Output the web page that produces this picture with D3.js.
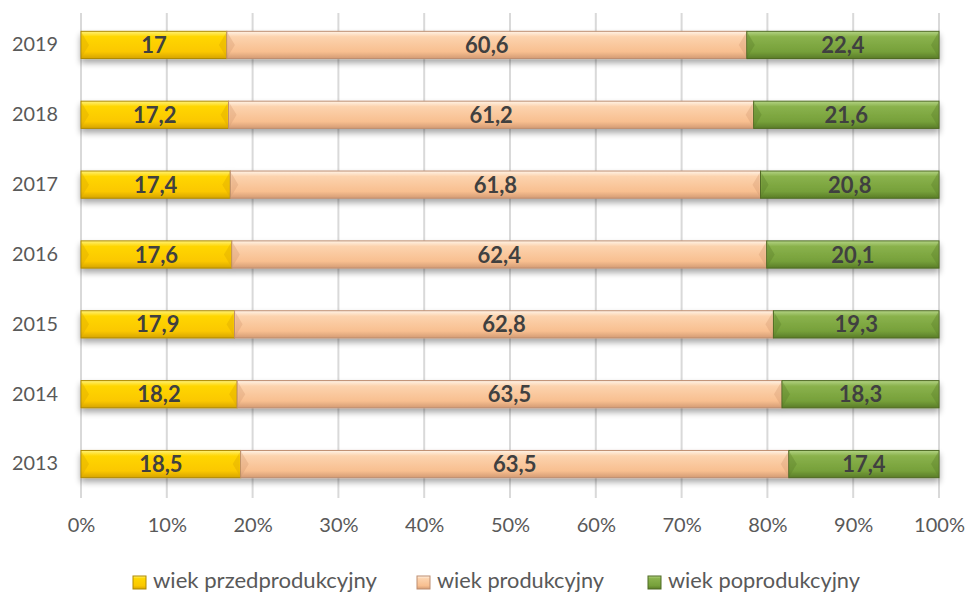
<!DOCTYPE html>
<html><head><meta charset="utf-8">
<script src="https://cdn.jsdelivr.net/npm/d3@7"></script>
<style>body{margin:0;background:#fff}svg{display:block}</style>
</head><body>
<script>
const years = ["2019","2018","2017","2016","2015","2014","2013"];
const przed = [17, 17.2, 17.4, 17.6, 17.9, 18.2, 18.5];
const prod = [60.6, 61.2, 61.8, 62.4, 62.8, 63.5, 63.5];
const popro = [22.4, 21.6, 20.8, 20.1, 19.3, 18.3, 17.4];
const seriesNames = ["wiek przedprodukcyjny","wiek produkcyjny","wiek poprodukcyjny"];
const ticks = [0,10,20,30,40,50,60,70,80,90,100];

const W=967,H=593;
const svg=d3.select("body").append("svg").attr("width",W).attr("height",H);
const defs=svg.append("defs");
const pal=[
 {id:"g0",stops:["#FFF27A","#FFD600","#FBC800","#D6A400"],stroke:"#B08A00"},
 {id:"g1",stops:["#FFF4E8","#FCD3AE","#F8BF90","#D39B74"],stroke:"#BE8E70"},
 {id:"g2",stops:["#B4D486","#8AB24C","#76A03A","#5A7C28"],stroke:"#4F6A24"}
];
pal.forEach(p=>{
  const g=defs.append("linearGradient").attr("id",p.id).attr("x1",0).attr("x2",0).attr("y1",0).attr("y2",1);
  [0,0.2,0.75,1].forEach((o,i)=>g.append("stop").attr("offset",o).attr("stop-color",p.stops[i]));
});
const f=defs.append("filter").attr("id","sh").attr("x","-5%").attr("y","-50%").attr("width","110%").attr("height","250%");
f.append("feGaussianBlur").attr("in","SourceAlpha").attr("stdDeviation",3).attr("result","b");
f.append("feOffset").attr("in","b").attr("dy",4).attr("result","o");
f.append("feComponentTransfer").attr("in","o").attr("result","o2").append("feFuncA").attr("type","linear").attr("slope",0.35);
const m=f.append("feMerge");m.append("feMergeNode").attr("in","o2");m.append("feMergeNode").attr("in","SourceGraphic");

const x=d3.scaleLinear().domain([0,100]).range([81,939]);
const y=d3.scaleBand().domain(years).range([10,499]).paddingInner(0.61).paddingOuter(0.305);

// grid
svg.append("g").selectAll("line").data(ticks).join("line")
 .attr("x1",d=>x(d)).attr("x2",d=>x(d)).attr("y1",13).attr("y2",498)
 .attr("stroke","#D9D9D9").attr("stroke-width",2);

const font="Lato, 'Open Sans', sans-serif";
const xAxis=d3.axisBottom(x).tickValues(ticks).tickFormat(d=>d+"%").tickSize(0).tickPadding(0);
const gx=svg.append("g").attr("transform","translate(0,518)").call(xAxis);
gx.select(".domain").remove();
gx.selectAll("text").attr("font-family",font).attr("font-size",20).attr("fill","#595959").attr("dy","0.71em");

const yAxis=d3.axisLeft(y).tickSize(0).tickPadding(0);
const gy=svg.append("g").attr("transform","translate(58,0)").call(yAxis);
gy.select(".domain").remove();
gy.selectAll("text").attr("font-family",font).attr("font-size",20).attr("fill","#595959").attr("textLength",46).attr("lengthAdjust","spacingAndGlyphs");

const data=years.map((yr,i)=>({yr,vals:[przed[i],prod[i],popro[i]]}));
const stack=[];
data.forEach(d=>{const tot=d3.sum(d.vals);let c=0;d.vals.forEach((v,k)=>{const p=v/tot*100;stack.push({yr:d.yr,k,x0:c,x1:c+p,v});c+=p;});});

const bars=svg.append("g").attr("filter","url(#sh)");
bars.selectAll("rect").data(stack).join("rect")
 .attr("x",d=>x(d.x0)).attr("width",d=>x(d.x1)-x(d.x0))
 .attr("y",d=>y(d.yr)).attr("height",y.bandwidth())
 .attr("fill",d=>`url(#${pal[d.k].id})`)
 .attr("stroke",d=>pal[d.k].stroke).attr("stroke-width",1);
// bevel end triangles
const bh=y.bandwidth();
svg.append("g").selectAll("path").data(stack).join("path")
 .attr("d",d=>{const a=x(d.x0)+1,b=x(d.x1)-1,t=y(d.yr)+2,bt=y(d.yr)+bh-2,mid=y(d.yr)+bh/2,w=7;
   return `M${a},${t}L${a+w},${mid}L${a},${bt}Z M${b},${t}L${b-w},${mid}L${b},${bt}Z`;})
 .attr("fill",d=>pal[d.k].stops[3]).attr("opacity",0.35);

svg.append("g").selectAll("text").data(stack).join("text")
 .attr("x",d=>(x(d.x0)+x(d.x1))/2).attr("y",d=>y(d.yr)+bh/2).attr("dy","0.37em")
 .attr("text-anchor","middle").attr("font-family",font).attr("font-weight","bold")
 .attr("font-size",22).attr("fill","#404040")
 .text(d=>String(d.v).replace(".",","));

// legend
const lx=[133,417,648];
const tl=[224,167,192];
const lg=svg.append("g").selectAll("g").data(seriesNames).join("g").attr("transform",(d,i)=>`translate(${lx[i]},576)`);
lg.append("rect").attr("width",13).attr("height",13).attr("fill",(d,i)=>`url(#${pal[i].id})`).attr("stroke",(d,i)=>pal[i].stroke);
lg.append("text").attr("x",20).attr("y",12).attr("font-family",font).attr("font-size",22).attr("fill","#595959")
 .attr("textLength",(d,i)=>tl[i]).attr("lengthAdjust","spacingAndGlyphs").text(d=>d);
</script>
</body></html>
